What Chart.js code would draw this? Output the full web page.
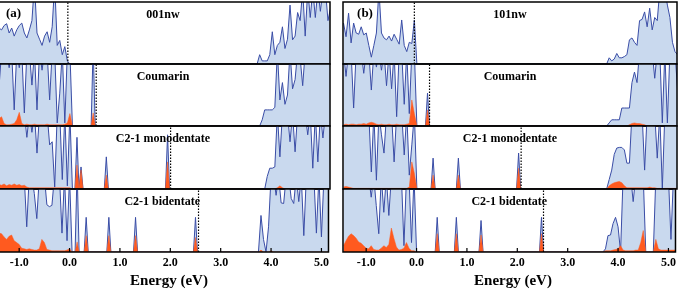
<!DOCTYPE html>
<html><head><meta charset="utf-8">
<script src="https://cdn.jsdelivr.net/npm/chart.js@4"></script>
<style>
html,body{margin:0;padding:0;background:#fff;overflow:hidden;}
#wrap{position:relative;width:678px;height:290px;overflow:hidden;background:#fff;}
canvas{position:absolute;}
</style></head><body><div id="wrap"></div>
<script>
// ---------- energy grids (eV) ----------
const vbE = [-1.45,-1.40,-1.35,-1.30,-1.25,-1.20,-1.15,-1.10,-1.05,-1.00,-0.95,-0.90,-0.85,-0.80,-0.75,-0.70,-0.65,-0.60,-0.55,-0.50,-0.45,-0.40,-0.35,-0.30,-0.25,-0.20,-0.15,-0.10,-0.05,0.00,0.05];
const cbE = [3.70,3.75,3.80,3.85,3.90,3.95,4.00,4.05,4.10,4.15,4.20,4.25,4.30,4.35,4.40,4.45,4.50,4.55,4.60,4.65,4.70,4.75,4.80,4.85,4.90,4.95,5.00,5.05,5.10,5.15];
const xTicks = [-1,0,1,2,3,4,5];
const xTitle = "Energy (eV)";

const titlesA = ["001nw","Coumarin","C2-1 monodentate","C2-1 bidentate"];
const titlesB = ["101nw","Coumarin","C2-1 monodentate","C2-1 bidentate"];
const levelsA = [-0.04, 0.52, 1.99, 2.56];
const levelsB = [-0.05, 0.25, 2.06, 2.52];

// ---------- panel (a) ----------
const a1_tvb = [0.55,0.58,0.55,0.62,0.65,0.50,0.58,0.45,0.55,0.62,0.66,0.50,0.42,0.55,0.70,1.3,0.50,0.40,0.30,0.45,0.52,0.35,0.60,1.3,0.30,0.38,0.15,0.28,0.05,0,0];
const a1_tcb = [0,0.15,0.05,0.05,0.05,0.15,0.52,0.15,0.3,0.35,0.6,0.25,0.4,0.95,0.39,0.45,0.83,0.7,1.2,0.45,1.2,0.75,1.2,0.75,1.2,0.85,1.2,1.2,0.7,0.9];

const a2_tvb = [1.2,0.63,1.2,1.2,1.2,0.94,1.2,0.26,1.2,0.94,1.2,0.21,1.2,1.2,0.66,1.2,0.26,1.2,0.9,1.2,1.2,0.42,1.2,1.2,0.05,0.53,1.2,0.05,1.2,1.2,0];
const a2_tcb = [0,0,0.1,0.26,0.26,0.26,0.26,0.3,1.2,0.42,0.7,0.35,0.5,1.2,0.6,0.75,1.2,1.1,0.65,1.2,1.2,1.2,1.2,1.2,1.2,1.2,1.2,1.2,1.2,1.2];
const a2_pvb = [0.05,0.12,0.15,0.04,0.02,0.02,0.03,0.04,0.1,0.22,0.04,0.02,0.03,0.02,0.02,0.03,0.02,0.02,0.02,0.02,0.03,0.02,0.02,0.02,0.02,0.02,0.02,0.03,0.05,0.2,0];
const a2_pcb = [0,0,0,0,0,0,0,0,0,0,0,0,0,0,0,0,0,0,0,0,0,0,0,0,0,0,0,0,0,0];
const a2_peaks = [[0.46,1.3,0.21]];

const a3_tvb = [1.2,1.2,1.2,1.2,1.2,1.2,1.2,1.2,1.2,1.2,1.2,1.2,0.82,1.2,0.9,1.2,0.57,1.2,1.2,1.2,1.2,0.7,0.75,0.03,1.2,1.2,0.15,1.2,0.05,1.2,0];
const a3_tcb = [0,0,0,0,0.2,0.33,0.33,0.35,1.2,0.51,1.2,1.2,1.2,0.75,1.2,0.59,1.2,1.2,1.2,1.2,0.86,1.2,0.33,1.2,0.43,1.2,0.81,1.2,1.2,1.2];
const a3_pvb = [0.05,0.07,0.06,0.08,0.05,0.07,0.06,0.08,0.06,0.07,0.05,0.06,0.03,0.02,0.02,0.02,0.02,0.02,0.02,0.02,0.02,0.02,0.02,0.02,0.02,0.02,0.02,0.02,0.02,0.02,0];
const a3_pcb = [0,0,0,0,0,0,0,0,0.02,0.05,0.02,0,0,0,0,0,0,0,0,0,0,0,0,0,0,0,0,0,0,0];
const a3_peaks = [[0.14,0.82,0.38],[0.22,0.35,0.3],[0.72,0.51,0.22],[1.93,0.86,0.43]];

const a4_tvb = [1.2,1.2,1.2,1.2,1.2,1.2,1.2,1.2,1.2,1.2,1.2,1.2,0.4,1.2,1.2,0.93,0.53,1.2,1.2,1.2,0.75,0.72,0.74,1.2,1.2,1.2,0.3,1.2,0.18,1.2,0];
const a4_tcb = [0,0,0.58,0.2,0,0.4,1.2,1.2,0.9,1.2,0.78,0.77,1.2,1.2,0.85,0.77,1.2,0.8,1.2,0.26,1.2,1.2,1.2,1.2,0.3,1.2,0.24,1.2,1.2,1.2];
const a4_pvb = [0.25,0.3,0.29,0.24,0.2,0.25,0.27,0.18,0.15,0.12,0.06,0.05,0.04,0.05,0.04,0.03,0.03,0.05,0.2,0.15,0.04,0.03,0.02,0.02,0.02,0.02,0.02,0.02,0.03,0.05,0];
const a4_pcb = [0,0,0.03,0,0,0,0.02,0,0,0,0,0,0,0,0,0,0,0,0,0,0,0,0,0,0,0,0,0,0,0];
const a4_peaks = [[0.15,1.3,0.16],[0.33,0.55,0.26],[0.78,0.55,0.26],[1.31,0.55,0.26],[2.50,0.55,0.23]];

// ---------- panel (b) ----------
const b1_tvb = [0.66,0.44,0.82,0.34,0.66,0.5,0.48,0.6,0.47,0.5,0.3,0.11,0.3,0.5,1.2,0.5,0.42,0.39,0.45,0.37,0.48,0.4,0.32,0.71,0.3,0.2,0.35,0.33,0.71,0,0];
const b1_tcb = [0,0,0.1,0.05,0.08,0.17,0.1,0.1,0.12,0.15,0.39,0.42,0.35,0.3,0.7,0.72,0.84,0.6,0.9,0.55,0.75,0.7,1.2,1.2,1.2,0.95,0.75,0.35,0.2,0.15];

const b2_tvb = [1.2,0.8,1.2,1.2,0.29,1.2,1.2,1.2,0.85,1.2,1.2,0.58,1.2,0.95,1.2,0.9,1.2,0.65,1.2,0.6,1.2,0.15,1.2,1.2,0.35,1.2,0.2,1.2,1.2,0,0];
const b2_tcb = [0,0,0.05,0.1,0.1,0.1,0.1,0.29,0.29,0.29,0.29,0.7,0.87,0.7,1.2,1.2,1.2,1.2,1.2,1.2,0.77,1.2,1.2,0.05,1.2,0.05,1.2,1.2,1.2,0.6];
const b2_pvb = [0.02,0.03,0.02,0.03,0.03,0.02,0.03,0.03,0.04,0.03,0.05,0.06,0.05,0.03,0.02,0.03,0.02,0.02,0.03,0.02,0.02,0.03,0.02,0.02,0.02,0.03,0.04,0.42,0.2,0,0];
const b2_pcb = [0,0,0,0,0,0,0,0,0,0,0.02,0.04,0.05,0.04,0.04,0.03,0.02,0,0,0,0,0,0,0,0,0,0,0,0,0];
const b2_peaks = [[0.21,0.53,0.26]];

const b3_tvb = [1.2,1.2,1.2,1.2,1.2,1.2,1.2,1.2,1.2,1.2,1.2,0.27,1.2,0.14,1.2,0.86,0.57,1.2,1.2,1.2,0.43,1.2,1.2,1.2,0.54,1.2,0.22,0.7,1.2,0,0];
const b3_tcb = [0,0,0.15,0.3,0.55,0.65,0.66,0.66,0.62,0.41,0.41,1.2,1.2,1.2,1.2,1.2,0.3,1.2,1.2,1.2,1.2,0.49,1.2,0,1.2,1.2,1.2,1.2,1.2,1.2];
const b3_pvb = [0.03,0.04,0.03,0.02,0.01,0.01,0.01,0.01,0.01,0.01,0.01,0.01,0.01,0.01,0.01,0.01,0.01,0.01,0.01,0.01,0.01,0.01,0.01,0.01,0.01,0.01,0.03,0.43,0.25,0,0];
const b3_pcb = [0,0,0.05,0.08,0.1,0.11,0.12,0.1,0.05,0.02,0.02,0.02,0.02,0.02,0.02,0.02,0.02,0.02,0.03,0.02,0.02,0.01,0.01,0,0.01,0.01,0.01,0.01,0.01,0.01];
const b3_peaks = [[0.32,0.49,0.22],[0.82,0.49,0.22],[2.01,0.57,0.33]];

const b4_tvb = [1.2,1.2,1.2,1.2,1.2,1.2,1.2,1.2,1.2,1.2,1.2,0.87,1.2,0.74,0.29,1.2,0.63,1.2,0.58,1.2,1.2,1.2,1.2,1.2,0.1,1.2,1.2,0.15,1.2,0,0];
const b4_tcb = [0,0.05,0.26,0.27,0.45,0.55,0.4,0,1.2,1.2,1.2,1.2,0.8,1.2,1.2,1.2,1.2,0,0,0,0,1.2,1.2,1.2,1.2,1.2,1.2,0.2,1.2,1.2];
const b4_pvb = [0.1,0.18,0.25,0.29,0.26,0.22,0.16,0.14,0.1,0.06,0.05,0.1,0.04,0.03,0.03,0.06,0.1,0.07,0.12,0.38,0.22,0.08,0.03,0.04,0.06,0.15,0.06,0.02,0.02,0,0];
const b4_pcb = [0,0.02,0.02,0.02,0.03,0.04,0.05,0.1,0.03,0.02,0.02,0.02,0.02,0.03,0.03,0.15,0.34,0,0,0,0,0.2,0.05,0.03,0.03,0.03,0.03,0.03,0.03,0.03];
const b4_peaks = [[0.41,0.55,0.29],[0.79,0.55,0.29],[1.28,0.5,0.27],[2.48,0.55,0.29]];

// ---------- layout / style ----------
const X_MIN = -1.46, X_MAX = 5.14;
const PANEL_LEFT = {a:-4, b:343};
const PANEL_W = 334;
const ROW_TOP = [2,64,126,189];
const ROW_H = [62,62,63,63];
const PAD = 3, AXIS_H = 38;
const PEAK_HW = 0.04;
const FONT = '"Liberation Serif", "DejaVu Serif", serif';
const C_LINE = '#3a4da6', C_FILL = '#c9d9ee', C_PDOS = '#ff5a1f';

const subplots = [
  {p:'a', r:0, tag:'(a)', tagX:17.5, title:titlesA[0], level:levelsA[0], tvb:a1_tvb, tcb:a1_tcb, pvb:null, pcb:null, peaks:[]},
  {p:'a', r:1, title:titlesA[1], level:levelsA[1], tvb:a2_tvb, tcb:a2_tcb, pvb:a2_pvb, pcb:a2_pcb, peaks:a2_peaks},
  {p:'a', r:2, title:titlesA[2], level:levelsA[2], tvb:a3_tvb, tcb:a3_tcb, pvb:a3_pvb, pcb:a3_pcb, peaks:a3_peaks},
  {p:'a', r:3, title:titlesA[3], level:levelsA[3], tvb:a4_tvb, tcb:a4_tcb, pvb:a4_pvb, pcb:a4_pcb, peaks:a4_peaks, xTitleX:173},
  {p:'b', r:0, tag:'(b)', tagX:22, title:titlesB[0], level:levelsB[0], tvb:b1_tvb, tcb:b1_tcb, pvb:null, pcb:null, peaks:[]},
  {p:'b', r:1, title:titlesB[1], level:levelsB[1], tvb:b2_tvb, tcb:b2_tcb, pvb:b2_pvb, pcb:b2_pcb, peaks:b2_peaks},
  {p:'b', r:2, title:titlesB[2], level:levelsB[2], tvb:b3_tvb, tcb:b3_tcb, pvb:b3_pvb, pcb:b3_pcb, peaks:b3_peaks},
  {p:'b', r:3, title:titlesB[3], level:levelsB[3], tvb:b4_tvb, tcb:b4_tcb, pvb:b4_pvb, pcb:b4_pcb, peaks:b4_peaks, xTitleX:170}
];

function buildSeries(vb, peaks, cb, k) {
  const pts = vbE.map((e,i)=>({x:e, y:vb[i]}));
  peaks.forEach(pk => {
    pts.push({x:pk[0]-PEAK_HW, y:0}, {x:pk[0], y:pk[k]}, {x:pk[0]+PEAK_HW, y:0});
  });
  cb.forEach((v,i)=>pts.push({x:cbE[i], y:v}));
  return pts;
}

const framePlugin = {
  id: 'frame',
  afterDatasetsDraw(chart, args, o) {
    const ctx = chart.ctx, a = chart.chartArea;
    ctx.save();
    ctx.strokeStyle = '#000';
    ctx.lineWidth = 1.5;
    ctx.strokeRect(a.left, a.top, a.right - a.left, a.bottom - a.top);
    ctx.fillStyle = '#000';
    ctx.textBaseline = 'middle';
    ctx.textAlign = 'center';
    if (o.ticks) {
      const sx = chart.scales.x;
      ctx.lineWidth = 1.2;
      xTicks.forEach(t => {
        const px = sx.getPixelForValue(t);
        ctx.beginPath(); ctx.moveTo(px, a.bottom); ctx.lineTo(px, a.bottom - 4); ctx.stroke();
      });
      ctx.font = 'bold 15px ' + FONT;
      ctx.fillText(xTitle, a.left + o.xTitleX, a.bottom + 29);
    }
    ctx.font = 'bold 12px ' + FONT;
    ctx.fillText(o.title, (a.left + a.right) / 2, a.top + 12.5);
    if (o.tag) {
      ctx.font = 'bold 13px ' + FONT;
      ctx.fillText(o.tag, a.left + o.tagX, a.top + 12);
    }
    ctx.restore();
  }
};

const wrap = document.getElementById('wrap');
subplots.forEach(sp => {
  const bottom = sp.r === 3;
  const cv = document.createElement('canvas');
  const w = PANEL_W + 2*PAD;
  const h = ROW_H[sp.r] + PAD + (bottom ? AXIS_H : PAD);
  cv.width = w; cv.height = h;
  cv.style.width = w + 'px'; cv.style.height = h + 'px';
  cv.style.left = (PANEL_LEFT[sp.p] - PAD) + 'px';
  cv.style.top = (ROW_TOP[sp.r] - PAD) + 'px';
  wrap.appendChild(cv);

  const datasets = [{
    data: buildSeries(sp.tvb, sp.peaks, sp.tcb, 1),
    borderColor: C_LINE, borderWidth: 1, backgroundColor: C_FILL,
    fill: 'origin', pointRadius: 0, tension: 0, clip: 0, order: 3
  }];
  if (sp.pvb) {
    datasets.push({
      data: buildSeries(sp.pvb, sp.peaks, sp.pcb, 2),
      borderColor: C_PDOS, borderWidth: 0.5, backgroundColor: C_PDOS,
      fill: 'origin', pointRadius: 0, tension: 0, clip: 0, order: 2
    });
  }
  datasets.push({
    data: [{x:sp.level, y:0}, {x:sp.level, y:1}],
    borderColor: '#000', borderWidth: 1.2, borderDash: [1.5,1.5],
    fill: false, pointRadius: 0, clip: 0, order: 1
  });

  const xScale = {
    type: 'linear', min: X_MIN, max: X_MAX, display: bottom,
    grid: { display: false, drawTicks: false },
    border: { display: false },
    ticks: {
      stepSize: 1, includeBounds: false, autoSkip: false, maxRotation: 0, minRotation: 0,
      padding: 4, color: '#000',
      font: { family: FONT, size: 12, weight: 'bold' },
      callback: v => Number(v).toFixed(1)
    },
    title: { display: false }
  };
  if (bottom) xScale.afterFit = s => { s.height = AXIS_H; };

  new Chart(cv, {
    type: 'line',
    data: { datasets },
    options: {
      responsive: false, animation: false, events: [],
      devicePixelRatio: 1,
      layout: { padding: { left: PAD, right: PAD, top: PAD, bottom: bottom ? 0 : PAD } },
      plugins: {
        legend: { display: false }, tooltip: { enabled: false },
        frame: { title: sp.title, tag: sp.tag, tagX: sp.tagX, ticks: bottom, xTitleX: sp.xTitleX }
      },
      scales: {
        x: xScale,
        y: { min: 0, max: 1, display: false }
      }
    },
    plugins: [framePlugin]
  });
});
</script></body></html>
